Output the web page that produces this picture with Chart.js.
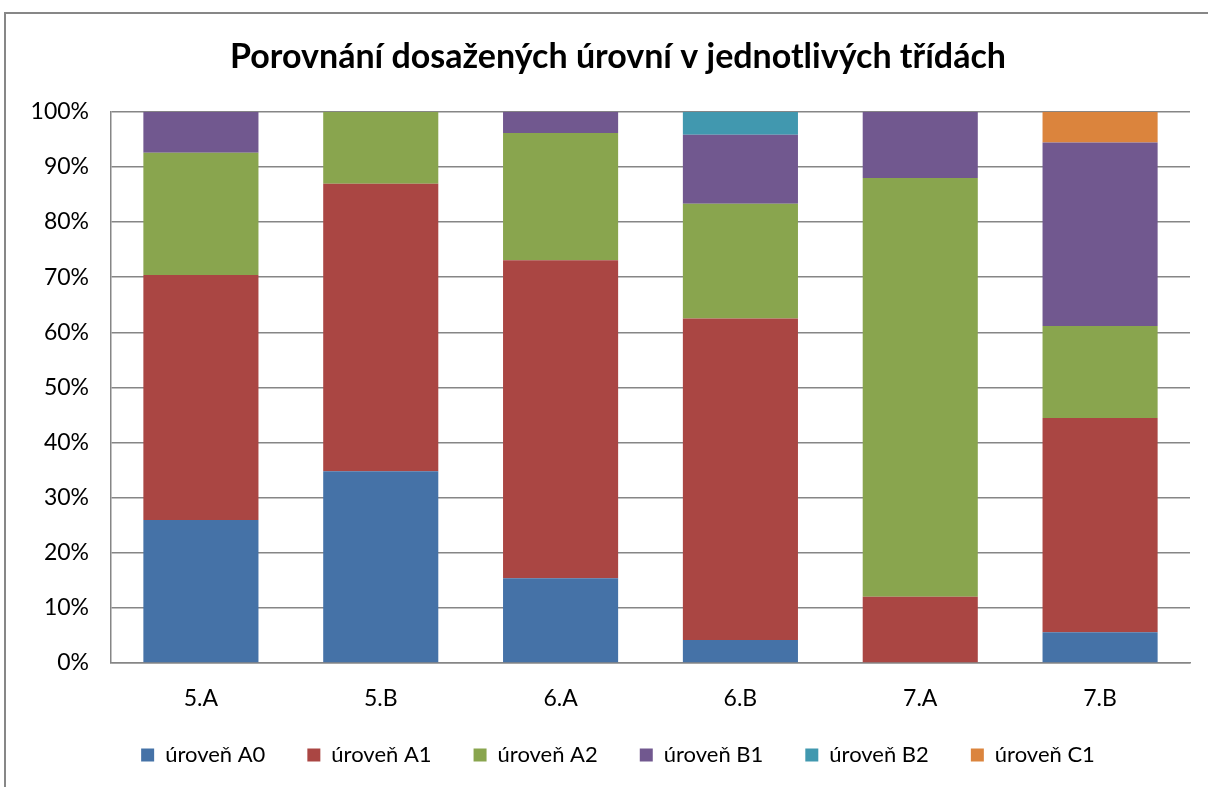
<!DOCTYPE html>
<html>
<head>
<meta charset="utf-8">
<script src="https://cdn.jsdelivr.net/npm/chart.js@4.4.1/dist/chart.umd.min.js"></script>
<style>
  html, body { margin: 0; padding: 0; background: #ffffff; }
  #c { display: block; }
</style>
</head>
<body>
<canvas id="c" width="1208" height="787"></canvas>
<script>
// Classes on the x axis
const categories = ['5.A', '5.B', '6.A', '6.B', '7.A', '7.B'];

// Share of pupils (%) reaching each level, per class
const levelA0 = [25.93, 34.78, 15.38, 4.17, 0, 5.56];
const levelA1 = [44.44, 52.17, 57.69, 58.33, 12, 38.89];
const levelA2 = [22.22, 13.04, 23.08, 20.83, 76, 16.67];
const levelB1 = [7.41, 0, 3.85, 12.5, 12, 33.33];
const levelB2 = [0, 0, 0, 4.17, 0, 0];
const levelC1 = [0, 0, 0, 0, 0, 5.56];

const seriesNames = ['úroveň A0', 'úroveň A1', 'úroveň A2', 'úroveň B1', 'úroveň B2', 'úroveň C1'];
const seriesValues = [levelA0, levelA1, levelA2, levelB1, levelB2, levelC1];
const seriesColors = ['#4572A7', '#AA4643', '#89A54E', '#71588F', '#4198AF', '#DB843D'];

const yTicks = [0, 10, 20, 30, 40, 50, 60, 70, 80, 90, 100];

const FONT = 'Lato, "Open Sans", sans-serif';

// White background and grey outer frame of the chart object
const framePlugin = {
  id: 'frame',
  beforeDraw(chart) {
    const ctx = chart.ctx;
    ctx.save();
    ctx.fillStyle = '#ffffff';
    ctx.fillRect(0, 0, chart.width, chart.height);
    ctx.strokeStyle = '#878787';
    ctx.lineWidth = 2;
    ctx.strokeRect(5, 13, chart.width + 20, chart.height + 20);
    ctx.restore();
  }
};

// Let tick labels run past their axis box instead of being cut off
function unclipLabels(scale) {
  scale._computeLabelArea = () => null;
}

new Chart(document.getElementById('c'), {
  type: 'bar',
  data: {
    labels: categories,
    datasets: seriesNames.map((name, i) => ({
      label: name,
      data: seriesValues[i],
      backgroundColor: seriesColors[i],
      borderWidth: 0,
      barPercentage: 0.64,
      categoryPercentage: 1.0
    }))
  },
  options: {
    responsive: false,
    animation: false,
    layout: { padding: { left: 46, right: 18, top: 0, bottom: 11 } },
    plugins: {
      title: {
        display: true,
        text: 'Porovnání dosažených úrovní v jednotlivých třídách',
        color: '#000000',
        font: { family: FONT, size: 34, weight: 'bold', lineHeight: 1.2 },
        padding: { top: 37, bottom: 34 }
      },
      legend: {
        position: 'bottom',
        labels: {
          color: '#000000',
          font: { family: FONT, size: 22 },
          boxWidth: 13,
          boxHeight: 13,
          padding: 42
        }
      },
      tooltip: { enabled: false }
    },
    scales: {
      x: {
        stacked: true,
        grid: { display: false, drawTicks: false },
        border: { display: true, color: '#868686', width: 1.5 },
        ticks: {
          color: '#000000',
          font: { family: FONT, size: 23 },
          padding: 22
        },
        afterFit(scale) { scale.height = 39; unclipLabels(scale); }
      },
      y: {
        stacked: true,
        min: 0,
        max: 100,
        afterBuildTicks(scale) { scale.ticks = yTicks.map(v => ({ value: v })); },
        grid: { color: '#868686', lineWidth: 1.5, drawTicks: false },
        border: { display: true, color: '#868686', width: 1.5 },
        ticks: {
          color: '#000000',
          font: { family: FONT, size: 23 },
          padding: 22,
          callback: v => v + '%'
        },
        afterFit(scale) { scale.width = 65; unclipLabels(scale); }
      }
    }
  },
  plugins: [framePlugin]
});
</script>
</body>
</html>
